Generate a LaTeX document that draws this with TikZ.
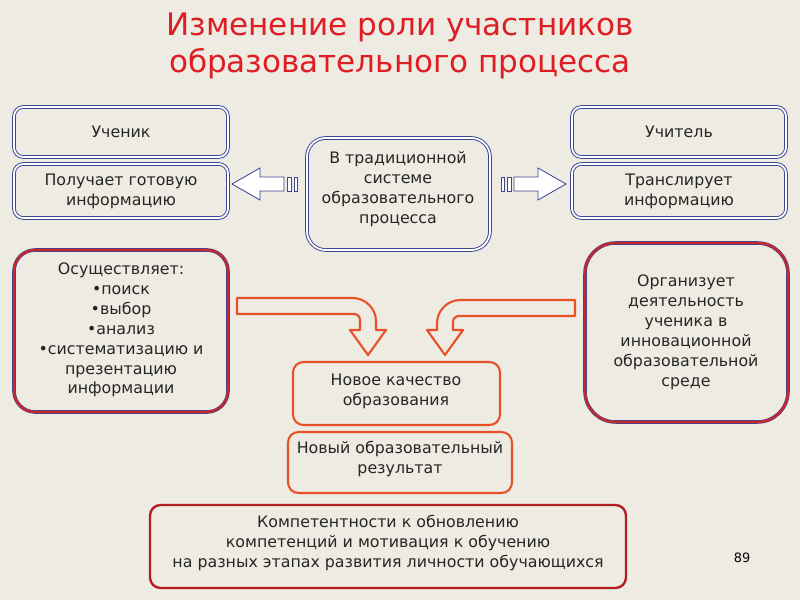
\documentclass[tikz,border=0pt]{standalone}
\usepackage{fontspec}
\setmainfont{DejaVu Sans}
\definecolor{bg}{RGB}{238,235,226}
\definecolor{ttl}{RGB}{222,30,36}
\definecolor{bblue}{RGB}{60,70,150}
\definecolor{rred}{RGB}{200,40,40}
\definecolor{oor}{RGB}{232,80,40}
\definecolor{dred}{RGB}{180,30,35}
\begin{document}
\begin{tikzpicture}[x=0.03cm,y=-0.03cm,
  txt/.style={font=\fontsize{13.5}{17}\selectfont, align=center, text=black!85},
  bluebox/.style={draw=bblue, double=white, double distance=1.5pt, line width=0.8pt, rounded corners=8pt},
  redbox/.style={draw=bblue, double=rred, double distance=2pt, line width=0.5pt, rounded corners=18pt},
  orbox/.style={draw=oor, line width=1.8pt, rounded corners=9pt},
  drbox/.style={draw=dred, line width=2pt, rounded corners=9pt},
  hollowb/.style={draw=bblue, line width=0.7pt, fill=white},
  hollowo/.style={draw=oor, line width=1.8pt, fill=bg, line join=round}]
\fill[bg] (0,0) rectangle (800,600);
\useasboundingbox (0,0) rectangle (800,600);
\node[font=\fontsize{26.5}{31}\selectfont, text=ttl, align=center] (title) at (400,46) {Изменение роли участников\\образовательного процесса};
% boxes
\draw[bluebox] (14,107) rectangle (228,157); \node[txt] (uch) at (121,132) {Ученик};
\draw[bluebox] (14,164) rectangle (228,218); \node[txt] (pol) at (121,191) {Получает готовую\\информацию};
\draw[bluebox, rounded corners=16pt] (307,138) rectangle (490,250); \node[txt] (trad) at (398,189) {В традиционной\\системе\\образовательного\\процесса};
\draw[bluebox] (572,107) rectangle (786,157); \node[txt] (ucht) at (679,132) {Учитель};
\draw[bluebox] (572,164) rectangle (786,218); \node[txt] (trans) at (679,191) {Транслирует\\информацию};
\draw[redbox] (14,250) rectangle (228,412); \node[txt] (osu) at (121,330) {Осуществляет:\\•поиск\\•выбор\\•анализ\\•систематизацию и\\презентацию\\информации};
\draw[redbox, rounded corners=26pt] (585,243) rectangle (788,422); \node[txt] (org) at (686,332) {Организует\\деятельность\\ученика в\\инновационной\\образовательной\\среде};
\draw[orbox] (293,362) rectangle (500,425); \node[txt] (nk) at (396,391) {Новое качество\\образования};
\draw[orbox] (288,432) rectangle (512,493); \node[txt] (nr) at (400,459) {Новый образовательный\\результат};
\draw[drbox] (150,505) rectangle (626,588); \node[txt] (komp) at (388,543) {Компетентности к обновлению\\компетенций и мотивация к обучению\\на разных этапах развития личности обучающихся};
\node[font=\fontsize{11}{13}\selectfont] (num) at (742,558) {89};
% hollow horizontal arrows
\draw[hollowb] (232,184) -- (260,168) -- (260,177) -- (284,177) -- (284,191) -- (260,191) -- (260,200) -- cycle;
\draw[hollowb] (287,177) rectangle (291,191);
\draw[hollowb] (294,177) rectangle (297,191);
\draw[hollowb] (566,184) -- (538,168) -- (538,177) -- (514,177) -- (514,191) -- (538,191) -- (538,200) -- cycle;
\draw[hollowb] (511,177) rectangle (507,191);
\draw[hollowb] (504,177) rectangle (501,191);
% bent arrows
\draw[hollowo] (237,298) [rounded corners=20pt]-- (376,298) [sharp corners]-- (376,330) -- (386,330) -- (368,355) -- (350,330) -- (360,330) [rounded corners=5pt]-- (360,314) [sharp corners]-- (237,314) -- cycle;
\draw[hollowo] (575,300) [rounded corners=20pt]-- (437,300) [sharp corners]-- (437,330) -- (427,330) -- (445,355) -- (463,330) -- (453,330) [rounded corners=5pt]-- (453,316) [sharp corners]-- (575,316) -- cycle;
\end{tikzpicture}
\end{document}
